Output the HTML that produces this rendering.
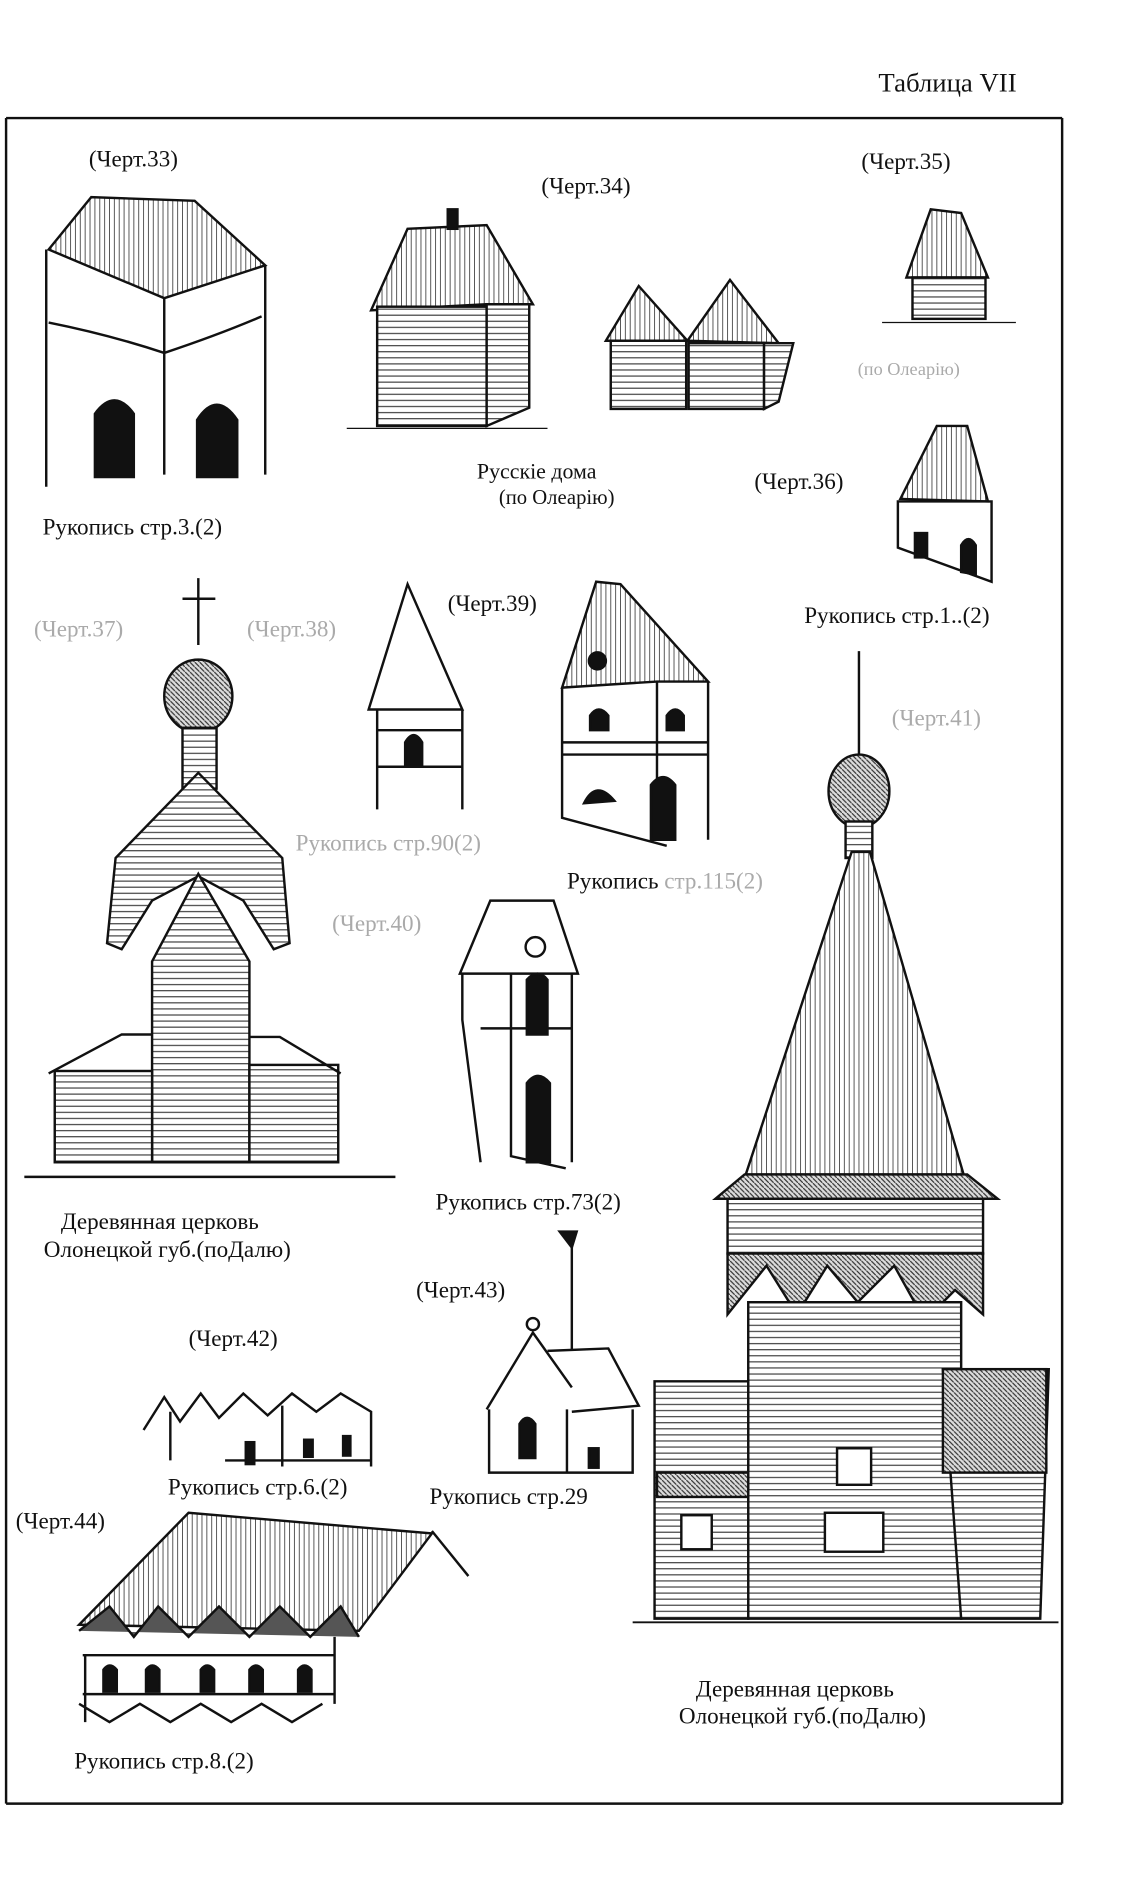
<!DOCTYPE html>
<html><head><meta charset="utf-8"><style>
html,body{margin:0;padding:0;background:#fff}
svg{display:block}
text{font-family:"Liberation Serif","DejaVu Serif",serif;fill:#111}
.g{fill:#aaa}
</style></head><body>
<svg width="1140" height="1901" viewBox="0 0 937 1562" preserveAspectRatio="none" xmlns="http://www.w3.org/2000/svg">
<defs>
<pattern id="h" width="6" height="5" patternUnits="userSpaceOnUse"><rect width="6" height="5" fill="#fff"/><line x1="0" y1="4" x2="6" y2="4" stroke="#444" stroke-width="1"/></pattern>
<pattern id="v" width="4" height="6" patternUnits="userSpaceOnUse"><rect width="4" height="6" fill="#fff"/><line x1="2" y1="0" x2="2" y2="6" stroke="#555" stroke-width="0.8"/></pattern>
<pattern id="d" width="4" height="4" patternUnits="userSpaceOnUse"><rect width="4" height="4" fill="#ddd"/><line x1="0" y1="0" x2="4" y2="4" stroke="#333" stroke-width="1"/></pattern>
</defs>
<g stroke="#111" stroke-width="2" fill="none">
<!-- frame -->
<line x1="5" y1="97" x2="873" y2="97"/>
<line x1="5" y1="97" x2="5" y2="1482"/>
<line x1="873" y1="97" x2="873" y2="1482"/>
<line x1="5" y1="1482" x2="873" y2="1482"/>
<!-- Ch33 -->
<polygon points="40,205 75,162 160,165 218,218 135,245" fill="url(#v)"/>
<line x1="38" y1="205" x2="38" y2="400"/><line x1="218" y1="218" x2="218" y2="390"/><line x1="135" y1="245" x2="135" y2="390"/>
<path d="M40,265 Q90,275 135,290 Q180,275 215,260"/>
<path d="M78,392 V340 Q94,318 110,340 V392Z" fill="#111"/>
<path d="M162,392 V345 Q178,320 195,345 V392Z" fill="#111"/>
<!-- Ch34 houses -->
<polygon points="305,255 335,188 400,185 438,250 400,250" fill="url(#v)"/>
<rect x="310" y="252" width="90" height="98" fill="url(#h)"/><polygon points="400,250 435,250 435,335 400,350" fill="url(#h)"/>
<rect x="368" y="172" width="8" height="16" fill="#111"/>
<line x1="285" y1="352" x2="450" y2="352" stroke-width="1"/>
<polygon points="498,280 525,235 565,280" fill="url(#v)"/><polygon points="565,280 600,230 640,282" fill="url(#v)"/>
<rect x="502" y="280" width="62" height="56" fill="url(#h)"/><rect x="566" y="282" width="62" height="54" fill="url(#h)"/>
<polygon points="628,282 652,282 640,330 628,336" fill="url(#h)"/>
<!-- Ch35 -->
<polygon points="745,228 765,172 790,175 812,228" fill="url(#v)"/>
<rect x="750" y="228" width="60" height="34" fill="url(#h)"/>
<line x1="725" y1="265" x2="835" y2="265" stroke-width="1"/>
<!-- Ch36 -->
<polygon points="740,410 770,350 795,350 812,412" fill="url(#v)"/>
<path d="M738,412 V450 L815,478 V412 Z"/>
<path d="M790,470 V448 Q796,438 802,448 V472Z" fill="#111"/><rect x="752" y="438" width="10" height="20" fill="#111"/>
<!-- Ch37 church -->
<line x1="163" y1="475" x2="163" y2="530"/><line x1="150" y1="492" x2="177" y2="492"/>
<ellipse cx="163" cy="572" rx="28" ry="30" fill="url(#d)"/>
<rect x="150" y="598" width="28" height="50" fill="url(#h)"/>
<polygon points="95,705 163,635 232,705 238,775 225,780 200,740 163,720 125,740 100,780 88,775" fill="url(#h)"/>
<polygon points="125,790 163,718 205,790 205,955 125,955" fill="url(#h)"/>
<rect x="45" y="880" width="80" height="75" fill="url(#h)"/><rect x="205" y="875" width="73" height="80" fill="url(#h)"/>
<polyline points="40,882 100,850 125,850"/><polyline points="205,852 230,852 280,882"/>
<line x1="20" y1="967" x2="325" y2="967"/>
<!-- Ch38 -->
<polygon points="303,583 335,480 380,583" fill="#fff"/>
<path d="M310,583 V665 M380,583 V665 M310,600 H380 M310,630 H380"/>
<path d="M333,630 V610 Q340,598 347,610 V630Z" fill="#111"/>
<!-- Ch39 -->
<polygon points="462,565 490,478 510,480 582,560 540,560" fill="url(#v)"/>
<path d="M462,565 V672 L548,695 M540,560 V690 M582,560 V690 M462,610 H582 M462,620 H582"/>
<path d="M485,600 V588 Q492,578 500,588 V600Z M548,600 V588 Q555,578 562,588 V600Z M535,690 V645 Q545,632 555,645 V690Z M480,660 Q490,640 505,658Z" fill="#111"/>
<circle cx="491" cy="543" r="7" fill="#111"/>
<!-- Ch40 -->
<polygon points="378,800 403,740 455,740 475,800 420,800" fill="#fff"/>
<path d="M380,800 V838 L395,955 M420,800 V950 L465,960 M470,800 V955 M395,845 H470"/>
<path d="M433,850 V805 Q442,795 450,805 V850Z M433,955 V890 Q442,878 452,890 V955Z" fill="#111"/>
<circle cx="440" cy="778" r="8"/>
<!-- Ch41 big church -->
<line x1="706" y1="535" x2="706" y2="620"/>
<ellipse cx="706" cy="650" rx="25" ry="30" fill="url(#d)"/>
<rect x="695" y="675" width="22" height="30" fill="url(#h)"/>
<polygon points="613,965 700,700 715,700 792,965" fill="url(#v)"/>
<polygon points="588,985 612,965 795,965 820,985" fill="url(#d)"/>
<rect x="598" y="985" width="210" height="45" fill="url(#h)"/>
<polygon points="598,1030 808,1030 808,1080 785,1060 760,1085 735,1040 705,1070 680,1040 655,1080 630,1040 598,1080" fill="url(#d)"/>
<rect x="615" y="1070" width="175" height="260" fill="url(#h)"/>
<polygon points="538,1135 615,1135 615,1330 538,1330" fill="url(#h)"/>
<rect x="540" y="1210" width="75" height="20" fill="url(#d)"/>
<polygon points="775,1125 862,1125 855,1330 790,1330" fill="url(#h)"/>
<rect x="775" y="1125" width="85" height="85" fill="url(#d)"/>
<rect x="688" y="1190" width="28" height="30" fill="#fff"/><rect x="678" y="1243" width="48" height="32" fill="#fff"/><rect x="560" y="1245" width="25" height="28" fill="#fff"/>
<line x1="520" y1="1333" x2="870" y2="1333" stroke-width="1.5"/>
<!-- Ch42 -->
<path d="M118,1175 L135,1148 L148,1168 L165,1145 L180,1165 L200,1145 L220,1163 L240,1145 L260,1160 L280,1145 L305,1160 V1205 M140,1160 V1200 M232,1155 V1205 M305,1160 V1205 M185,1200 H305"/>
<rect x="202" y="1185" width="7" height="18" fill="#111"/><rect x="250" y="1183" width="7" height="14" fill="#111"/><rect x="282" y="1180" width="6" height="16" fill="#111"/>
<!-- Ch43 -->
<line x1="470" y1="1015" x2="470" y2="1110"/><polygon points="460,1012 474,1012 470,1025" fill="#111"/>
<path d="M400,1158 L438,1095 L470,1140 M450,1110 L500,1108 L525,1155 L470,1160 M402,1158 V1210 H520 V1158 M466,1158 V1210"/>
<circle cx="438" cy="1088" r="5"/>
<path d="M427,1198 V1170 Q433,1160 440,1170 V1198Z" fill="#111"/><rect x="484" y="1190" width="8" height="16" fill="#111"/>
<!-- Ch44 -->
<polygon points="65,1335 155,1243 355,1260 295,1340" fill="url(#v)"/>
<line x1="355" y1="1258" x2="385" y2="1295"/>
<path d="M65,1340 L90,1320 L110,1345 L130,1320 L155,1345 L180,1320 L205,1345 L230,1320 L255,1345 L280,1320 L295,1345" fill="#555"/>
<path d="M68,1360 H275 M68,1392 H275 M70,1360 V1415 M275,1345 V1400 M65,1400 L90,1415 L115,1400 L140,1415 L165,1400 L190,1415 L215,1400 L240,1415 L265,1400"/>
<path d="M85,1390 V1372 Q90,1365 96,1372 V1390Z M120,1390 V1372 Q125,1365 131,1372 V1390Z M165,1390 V1372 Q170,1365 176,1372 V1390Z M205,1390 V1372 Q210,1365 216,1372 V1390Z M245,1390 V1372 Q250,1365 256,1372 V1390Z" fill="#111"/>
</g>
<!-- texts -->
<g font-size="19">
<text x="722" y="75" font-size="22">Таблица VII</text>
<text x="73" y="137">(Черт.33)</text>
<text x="445" y="159">(Черт.34)</text>
<text x="708" y="139">(Черт.35)</text>
<text x="705" y="308" class="g" font-size="15">(по Олеарію)</text>
<text x="392" y="393" font-size="18">Русскіе дома</text>
<text x="410" y="414" font-size="17">(по Олеарію)</text>
<text x="620" y="402">(Черт.36)</text>
<text x="35" y="439">Рукопись стр.3.(2)</text>
<text x="661" y="512">Рукопись стр.1..(2)</text>
<text x="28" y="523" class="g">(Черт.37)</text>
<text x="203" y="523" class="g">(Черт.38)</text>
<text x="368" y="502">(Черт.39)</text>
<text x="733" y="596" class="g">(Черт.41)</text>
<text x="243" y="699" class="g">Рукопись стр.90(2)</text>
<text x="466" y="730">Рукопись <tspan class="g">стр.115(2)</tspan></text>
<text x="273" y="765" class="g">(Черт.40)</text>
<text x="358" y="994">Рукопись стр.73(2)</text>
<text x="50" y="1010">Деревянная церковь</text>
<text x="36" y="1033">Олонецкой губ.(поДалю)</text>
<text x="342" y="1066">(Черт.43)</text>
<text x="155" y="1106">(Черт.42)</text>
<text x="138" y="1228">Рукопись стр.6.(2)</text>
<text x="353" y="1236">Рукопись стр.29</text>
<text x="13" y="1256">(Черт.44)</text>
<text x="572" y="1394">Деревянная церковь</text>
<text x="558" y="1416">Олонецкой губ.(поДалю)</text>
<text x="61" y="1453">Рукопись стр.8.(2)</text>
</g>
</svg>
</body></html>
